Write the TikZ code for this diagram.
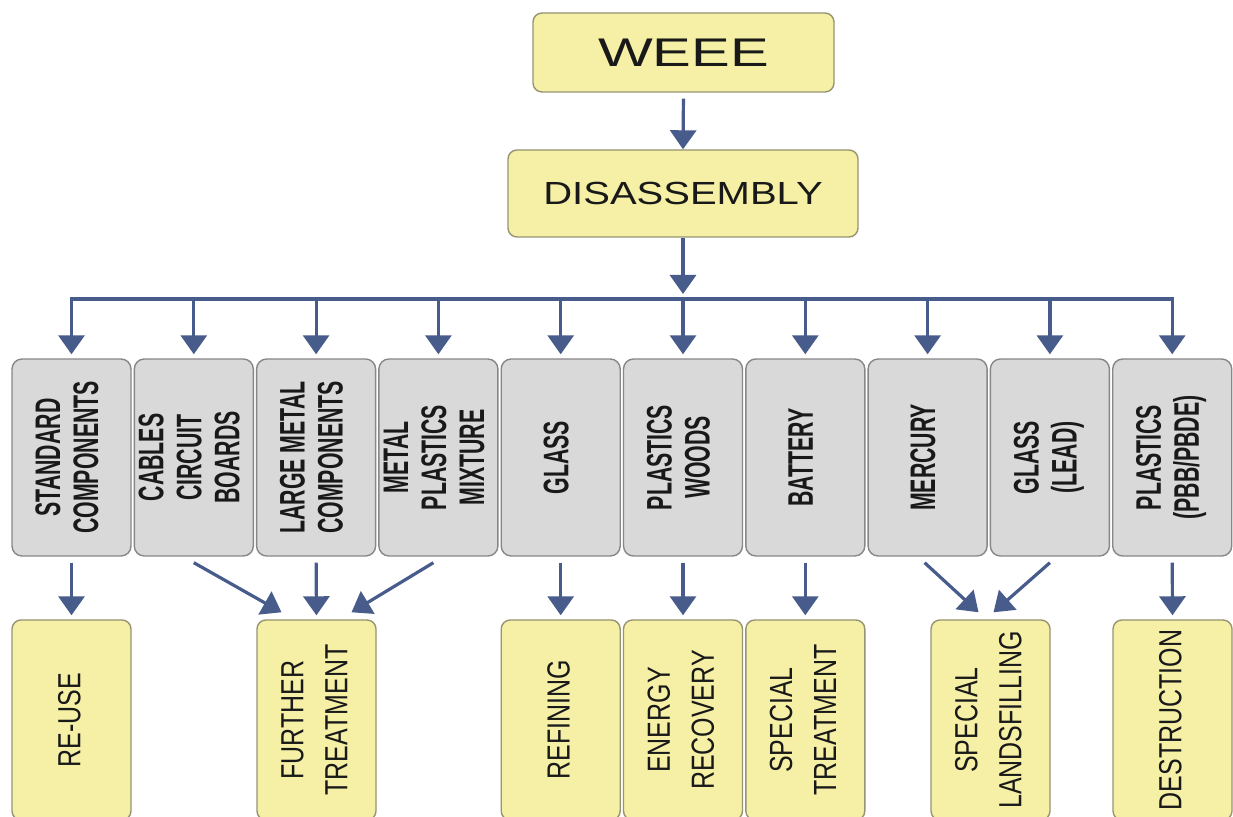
\documentclass[tikz,border=0pt]{standalone}
\usepackage{fontspec}
\usepackage{graphicx}
\setmainfont{Liberation Sans}
\newfontfamily\weeefont[FakeStretch=1.45]{Liberation Sans}
\newfontfamily\disfont[FakeStretch=1.25]{Liberation Sans}
\newfontfamily\grayfont[FakeStretch=0.6]{Liberation Sans Bold}
\newfontfamily\yelfont[FakeStretch=0.78]{Liberation Sans}
\usetikzlibrary{arrows.meta}
\definecolor{yelfill}{RGB}{245,240,165}
\definecolor{yeldraw}{RGB}{150,148,115}
\definecolor{grayfill}{RGB}{217,217,217}
\definecolor{graydraw}{RGB}{135,135,135}
\definecolor{arrowc}{RGB}{72,92,140}
\definecolor{txt}{RGB}{25,25,25}
\newcommand{\vtext}[1]{\rotatebox{90}{\begin{tabular}{@{}c@{}}#1\end{tabular}}}
\tikzset{
  ybox/.style={draw=yeldraw, fill=yelfill, line width=1.4pt, rounded corners=9pt, inner sep=0pt, text=txt},
  gbox/.style={draw=graydraw, fill=grayfill, line width=1.4pt, rounded corners=10pt, inner sep=0pt,
    minimum width=119pt, minimum height=197pt, text=txt, font=\grayfont\fontsize{35.5}{38}\selectfont},
  lowbox/.style={ybox, minimum width=119pt, minimum height=200pt, font=\yelfont\fontsize{32}{44}\selectfont},
  conn/.style={draw=arrowc, line width=3.2pt},
  arr/.style={conn, -{Triangle[width=26pt,length=19pt]}}
}
\begin{document}
\begin{tikzpicture}[x=1pt,y=1pt]
\useasboundingbox (0,0) rectangle (1233,816);
\clip (0,0) rectangle (1233,816);
\fill[white] (0,0) rectangle (1233,816);

\node[ybox, minimum width=301pt, minimum height=79pt, font=\weeefont\fontsize{40}{45}\selectfont] (weee) at (683.5,763.5) {WEEE};
\node[ybox, minimum width=350pt, minimum height=87pt, font=\disfont\fontsize{32}{36}\selectfont] (dis) at (683,622.5) {DISASSEMBLY};

\node[gbox] (g1) at (71.5,358.5) {\vtext{STANDARD\\COMPONENTS}};
\node[gbox] (g2) at (193.8,358.5) {\vtext{CABLES\\CIRCUIT\\BOARDS}};
\node[gbox] (g3) at (316.1,358.5) {\vtext{LARGE METAL\\COMPONENTS}};
\node[gbox] (g4) at (438.4,358.5) {\vtext{METAL\\PLASTICS\\MIXTURE}};
\node[gbox] (g5) at (560.7,358.5) {\vtext{GLASS}};
\node[gbox] (g6) at (683,358.5) {\vtext{PLASTICS\\WOODS}};
\node[gbox] (g7) at (805.3,358.5) {\vtext{BATTERY}};
\node[gbox] (g8) at (927.6,358.5) {\vtext{MERCURY}};
\node[gbox] (g9) at (1049.9,358.5) {\vtext{GLASS\\(LEAD)}};
\node[gbox] (g10) at (1172.2,358.5) {\vtext{PLASTICS\\(PBB/PBDE)}};

\node[lowbox] (reuse) at (71.5,96) {\vtext{RE-USE}};
\node[lowbox] (fur) at (316.5,96) {\vtext{FURTHER\\TREATMENT}};
\node[lowbox] (ref) at (560.7,96) {\vtext{REFINING}};
\node[lowbox] (ene) at (683,96) {\vtext{ENERGY\\RECOVERY}};
\node[lowbox] (spt) at (805.3,96) {\vtext{SPECIAL\\TREATMENT}};
\node[lowbox] (land) at (990.5,96) {\vtext{SPECIAL\\LANDSFILLING}};
\node[lowbox] (des) at (1172.5,96) {\vtext{DESTRUCTION}};

\coordinate (bar) at (683,517);
\draw[arr, shorten <=6pt] (weee.south) -- (dis.north);
\draw[arr, shorten >=5pt] (dis.south) -- (bar);
\draw[conn, line cap=rect] (g1.north |- bar) -- (g10.north |- bar);
\foreach \i in {1,...,10} {
  \draw[arr, shorten >=4pt] (g\i.north |- bar) -- (g\i.north);
}

\draw[arr, shorten <=6pt, shorten >=4pt] (g1.south) -- (reuse.north);
\draw[arr, shorten <=6pt, shorten >=4pt] (g3.south) -- (fur.north);
\draw[arr] ([yshift=-6pt]g2.south) -- ([xshift=-35pt,yshift=7pt]fur.north);
\draw[arr] ([xshift=-5pt,yshift=-6pt]g4.south) -- ([xshift=35pt,yshift=7pt]fur.north);
\draw[arr, shorten <=6pt, shorten >=4pt] (g5.south) -- (ref.north);
\draw[arr, shorten <=6pt, shorten >=4pt] (g6.south) -- (ene.north);
\draw[arr, shorten <=6pt, shorten >=4pt] (g7.south) -- (spt.north);
\draw[arr] ([xshift=-3pt,yshift=-6pt]g8.south) -- ([xshift=-12pt,yshift=7pt]land.north);
\draw[arr] ([yshift=-6pt]g9.south) -- ([xshift=3pt,yshift=7pt]land.north);
\draw[arr, shorten <=6pt, shorten >=4pt] (g10.south) -- (des.north);
\end{tikzpicture}
\end{document}
